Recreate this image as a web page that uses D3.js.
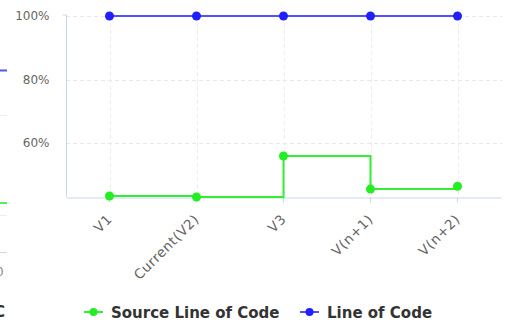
<!DOCTYPE html>
<html><head><meta charset="utf-8">
<script src="https://cdn.jsdelivr.net/npm/d3@7/dist/d3.min.js"></script>
<style>html,body{margin:0;padding:0;background:#fff;overflow:hidden}</style>
</head><body>
<svg id="c" width="507" height="325"></svg>
<script>
const categories = ["V1", "Current(V2)", "V3", "V(n+1)", "V(n+2)"];
const sourceLineOfCode = [43.3, 43.0, 55.9, 45.5, 46.4];
const lineOfCode = [100, 100, 100, 100, 100];
const yTicks = [60, 80, 100];
const seriesNames = ["Source Line of Code", "Line of Code"];
const seriesColors = ["#22ee22", "#2020ff"];

(function () {
const svg = d3.select("#c");
const pLeft = 66, pRight = 501, pTop = 16, pBottom = 197;
const x = d3.scaleBand().domain(categories).range([pLeft, pRight]);
const xc = d => x(d) + x.bandwidth() / 2;
const y = d3.scaleLinear().domain([43, 100]).range([pBottom, pTop]);

// neighbour chart fragments at left edge
const frag = svg.append("g");
frag.append("line").attr("x1",0).attr("x2",7).attr("y1",70.5).attr("y2",70.5).attr("stroke","#5555ee").attr("stroke-width",2);
frag.append("line").attr("x1",0).attr("x2",7).attr("y1",115.5).attr("y2",115.5).attr("stroke","#eeeeee");
frag.append("line").attr("x1",0).attr("x2",7).attr("y1",203).attr("y2",203).attr("stroke","#55ee55").attr("stroke-width",2);
frag.append("line").attr("x1",0).attr("x2",7).attr("y1",215.5).attr("y2",215.5).attr("stroke","#eeeeee");
frag.append("line").attr("x1",0).attr("x2",7).attr("y1",252.5).attr("y2",252.5).attr("stroke","#d0d8ea");
frag.append("text").attr("x",-4).attr("y",276).attr("font-family","DejaVu Sans").attr("font-size",12).attr("fill","#888").text("0");
frag.append("text").attr("x",-6).attr("y",317).attr("font-family","DejaVu Sans").attr("font-weight","bold").attr("font-size",15).attr("fill","#333").text("C");

// horizontal grid
svg.append("g").selectAll("line").data(yTicks).join("line")
  .attr("x1", pLeft).attr("x2", pRight + 1)
  .attr("y1", d => Math.round(y(d)) + 0.5).attr("y2", d => Math.round(y(d)) + 0.5)
  .attr("stroke", "#e8e8e8").attr("stroke-dasharray", "4,3");
// vertical grid
svg.append("g").selectAll("line").data(categories).join("line")
  .attr("x1", d => Math.round(xc(d)) + 0.5).attr("x2", d => Math.round(xc(d)) + 0.5)
  .attr("y1", pTop).attr("y2", pBottom)
  .attr("stroke", "#eeeeee").attr("stroke-dasharray", "4,3");

// y axis
const yAxis = svg.append("g").attr("transform", `translate(${pLeft + 0.5},0)`)
  .call(d3.axisLeft(y).tickValues(yTicks).tickFormat(d => d + "%").tickSize(0).tickPadding(17));
yAxis.select(".domain").attr("stroke", "#ccd6eb").attr("d", `M-4,${pTop - 1}H0V${pBottom}`);
yAxis.selectAll("text").attr("font-family", "DejaVu Sans").attr("font-size", 12).attr("fill", "#666");

// x axis
const xAxis = svg.append("g").attr("transform", `translate(0,${pBottom + 0.5})`)
  .call(d3.axisBottom(x).tickSize(5).tickSizeOuter(0));
xAxis.select(".domain").attr("stroke", "#ccd6eb");
xAxis.selectAll(".tick line").attr("stroke", "#ccd6eb");
xAxis.selectAll("text").attr("font-family", "DejaVu Sans").attr("font-size", 13.5).attr("fill", "#666")
  .attr("letter-spacing", 0.6)
  .attr("text-anchor", "end").attr("dy", null).attr("y", 0)
  .attr("transform", "translate(3.5,22.5) rotate(-45)");

// lines
const blueLine = d3.line().x((d, i) => xc(categories[i])).y(d => y(d));
svg.append("path").datum(lineOfCode).attr("d", blueLine)
  .attr("fill", "none").attr("stroke", "#5050ff").attr("stroke-width", 2);
const greenLine = d3.line().x((d, i) => xc(categories[i])).y(d => y(d)).curve(d3.curveStepAfter);
svg.append("path").datum(sourceLineOfCode).attr("d", greenLine)
  .attr("fill", "none").attr("stroke", "#33ee33").attr("stroke-width", 2);

svg.append("g").selectAll("circle").data(sourceLineOfCode).join("circle")
  .attr("cx", (d, i) => xc(categories[i])).attr("cy", d => y(d)).attr("r", 4.5).attr("fill", seriesColors[0]);
svg.append("g").selectAll("circle").data(lineOfCode).join("circle")
  .attr("cx", (d, i) => xc(categories[i])).attr("cy", d => y(d)).attr("r", 4.5).attr("fill", seriesColors[1]);

// legend
const legX = [84, 300];
const lg = svg.append("g").selectAll("g").data(seriesNames).join("g")
  .attr("transform", (d, i) => `translate(${legX[i]},312)`);
lg.append("line").attr("x1", 0).attr("x2", 19).attr("stroke", (d, i) => i ? "#5050ff" : "#33ee33").attr("stroke-width", 2);
lg.append("circle").attr("cx", 9.5).attr("r", 4).attr("fill", (d, i) => seriesColors[i]);
lg.append("text").attr("x", 27).attr("y", 5.5).attr("font-family", "DejaVu Sans").attr("font-weight", "bold")
  .attr("font-size", 15).attr("fill", "#333").text(d => d);
})();
</script>
</body></html>
